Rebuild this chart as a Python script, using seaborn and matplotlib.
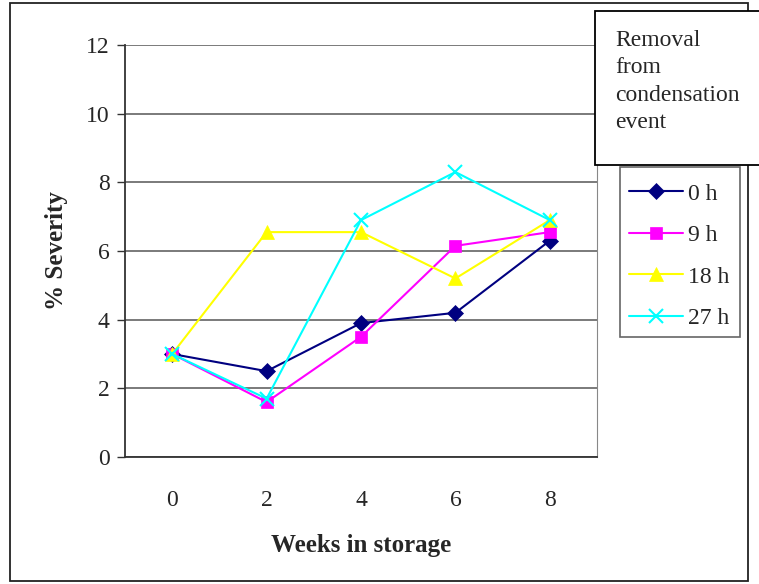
import matplotlib
matplotlib.use("Agg")
import matplotlib.pyplot as plt
from matplotlib.patches import Rectangle
import seaborn as sns
import pandas as pd

weeks = ["0", "2", "4", "6", "8"]
sev_0h = [3.0, 2.5, 3.9, 4.2, 6.3]
sev_9h = [3.0, 1.6, 3.5, 6.15, 6.55]
sev_18h = [3.0, 6.55, 6.55, 5.2, 6.9]
sev_27h = [3.0, 1.7, 6.9, 8.3, 6.9]
series_labels = ["0 h", "9 h", "18 h", "27 h"]
y_ticks = [0, 2, 4, 6, 8, 10, 12]

sns.set_style("white")
plt.rcParams["font.family"] = ["Liberation Serif", "DejaVu Serif"]

rows = []
for lab, vals in zip(series_labels, [sev_0h, sev_9h, sev_18h, sev_27h]):
    for i, (w, v) in enumerate(zip(weeks, vals)):
        rows.append({"pos": i, "week": w, "series": lab, "sev": v})
df = pd.DataFrame(rows)

W, H = 759, 584
fig = plt.figure(figsize=(W / 100, H / 100), dpi=100)
ax = fig.add_axes([125 / W, 1 - 457 / H, (597 - 125) / W, (457 - 45) / H])

colors = {"0 h": "#000080", "9 h": "#FF00FF", "18 h": "#FFFF00", "27 h": "#00FFFF"}
markers = {"0 h": "D", "9 h": "s", "18 h": "^", "27 h": "x"}
msizes = {"0 h": 8, "9 h": 8, "18 h": 10, "27 h": 10}

for lab in series_labels:
    sub = df[df["series"] == lab]
    sns.lineplot(data=sub, x="pos", y="sev", ax=ax, color=colors[lab],
                 marker=markers[lab], markersize=msizes[lab],
                 markeredgecolor=colors[lab], markeredgewidth=1.5 if lab == "27 h" else 0.5,
                 linewidth=1.5, label=lab, zorder=3)

ax.set_xlim(-0.5, 4.5)
ax.set_ylim(0, 12)
ax.set_yticks(y_ticks)
ax.set_yticklabels([str(t) for t in y_ticks], fontsize=17)
ax.set_xticks(range(len(weeks)))
ax.set_xticklabels(weeks, fontsize=17)
ax.tick_params(axis="x", length=0, pad=24)
ax.set_xticks([i - 0.5 for i in range(len(weeks) + 1)], minor=True)
ax.tick_params(axis="x", which="minor", length=6, width=1, color="#333333", direction="out")
ax.tick_params(axis="y", length=6, width=1, color="#333333", direction="out", pad=5, left=True)
ax.grid(axis="y", color="#707070", linewidth=1.3)
ax.grid(axis="x", visible=False)
ax.set_axisbelow(True)

for s in ["left", "bottom"]:
    ax.spines[s].set_color("#333333")
    ax.spines[s].set_linewidth(1.3)
ax.spines["right"].set_color("#888888")
ax.spines["top"].set_visible(False)

ax.set_xlabel("Weeks in storage", fontsize=18, fontweight="bold", labelpad=16)
ax.set_ylabel("% Severity", fontsize=18, fontweight="bold", labelpad=13)

leg = ax.legend(loc="upper left", bbox_to_anchor=(629 / W, 1 - 183 / H),
                bbox_transform=fig.transFigure, fontsize=17, frameon=False,
                handlelength=2.3, labelspacing=0.85, borderpad=0.0,
                handletextpad=0.2, borderaxespad=0)

# legend frame
fig.patches.append(Rectangle((620 / W, 1 - 337 / H), (740 - 620) / W, (337 - 167) / H,
                             transform=fig.transFigure, fill=False,
                             edgecolor="#666666", linewidth=1.2))
# outer chart border
fig.patches.append(Rectangle((10 / W, 1 - 581 / H), (748 - 10) / W, (581 - 3) / H,
                             transform=fig.transFigure, fill=False,
                             edgecolor="#222222", linewidth=1.3))
# title box
fig.patches.append(Rectangle((595 / W, 1 - 165 / H), (770 - 595) / W, (165 - 11) / H,
                             transform=fig.transFigure, facecolor="white",
                             edgecolor="black", linewidth=1.3, zorder=5))
fig.text(615 / W, 1 - 30 / H, "Removal\nfrom\ncondensation\nevent", fontsize=17,
         va="top", ha="left", linespacing=1.4, zorder=6)

fig.savefig("out.png", dpi=100, facecolor="white")
